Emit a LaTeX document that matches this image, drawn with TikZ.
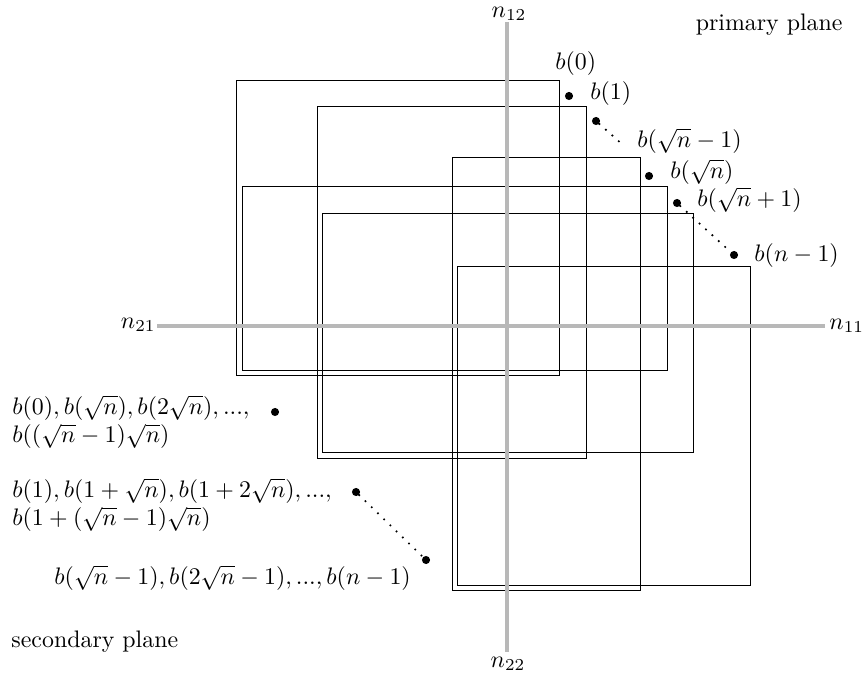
\documentclass[tikz,border=0pt]{standalone}
\begin{document}
\begin{tikzpicture}[x=0.5076pt,y=-0.5076pt,
  every node/.style={scale=1.212},
  axis/.style={draw=black!28, line width=2pt},
  box/.style={draw=black, line width=0.45pt},
  pt/.style={circle, fill=black, inner sep=0pt, minimum size=3.4pt},
  dots/.style={line width=1.2pt, line cap=round, dash pattern=on 0pt off 4.4pt},
  lab/.style={inner sep=0pt}]
\useasboundingbox (0,0) rectangle (868,681);
% rectangles
\draw[box] (236,80) rectangle (559,375);
\draw[box] (317,106) rectangle (586,458);
\draw[box] (452,157) rectangle (640,590);
\draw[box] (242,186) rectangle (667,370);
\draw[box] (322,213) rectangle (693,452);
\draw[box] (457,266) rectangle (750,585);
% axes
\coordinate (vt) at (507,22);
\coordinate (vb) at (507,652);
\coordinate (hl) at (157,326);
\coordinate (hr) at (825,326);
\draw[axis] (vt) -- (vb);
\draw[axis] (hl) -- (hr);
\node[lab] (n12) at (509,14) {$n_{12}$};
\node[lab] (n22) at (508,664) {$n_{22}$};
\node[lab,anchor=east] (n21) at (156,325) {$n_{21}$};
\node[lab,anchor=west] (n11) at (829,326) {$n_{11}$};
\node[lab,anchor=east] (pp) at (843,25) {primary plane};
\node[lab,anchor=west] (sp) at (11,642) {secondary plane};
% right dots
\node[pt] (d1) at (569,96) {};
\node[pt] (d2) at (596,121) {};
\coordinate (d2e) at (623,145);
\node[pt] (d3) at (649,176) {};
\node[pt] (d4) at (677,203) {};
\node[pt] (d5) at (734,255) {};
\draw[dots] (d2) -- (d2e);
\draw[dots] (d4) -- (d5);
\node[lab,anchor=west] (l0) at (555,64) {$b(0)$};
\node[lab,anchor=west] (l1) at (590,94) {$b(1)$};
\node[lab,anchor=west] (l2) at (637,141) {$b(\sqrt{n}-1)$};
\node[lab,anchor=west] (l3) at (670,172) {$b(\sqrt{n})$};
\node[lab,anchor=west] (l4) at (697,200) {$b(\sqrt{n}+1)$};
\node[lab,anchor=west] (l5) at (754,256) {$b(n-1)$};
% left dots
\node[pt] (e1) at (275,412) {};
\node[pt] (e2) at (356,492) {};
\node[pt] (e3) at (426,560) {};
\draw[dots] (e2) -- (e3);
\node[lab,anchor=west,align=left] (g1) at (12,422) {$b(0), b(\sqrt{n}), b(2\sqrt{n}), ...,$\\$b((\sqrt{n}-1)\sqrt{n})$};
\node[lab,anchor=west,align=left] (g2) at (12,505) {$b(1), b(1+\sqrt{n}), b(1+2\sqrt{n}), ...,$\\$b(1+(\sqrt{n}-1)\sqrt{n})$};
\node[lab,anchor=west] (g3) at (54,578) {$b(\sqrt{n}-1), b(2\sqrt{n}-1), ..., b(n-1)$};
\end{tikzpicture}
\end{document}
